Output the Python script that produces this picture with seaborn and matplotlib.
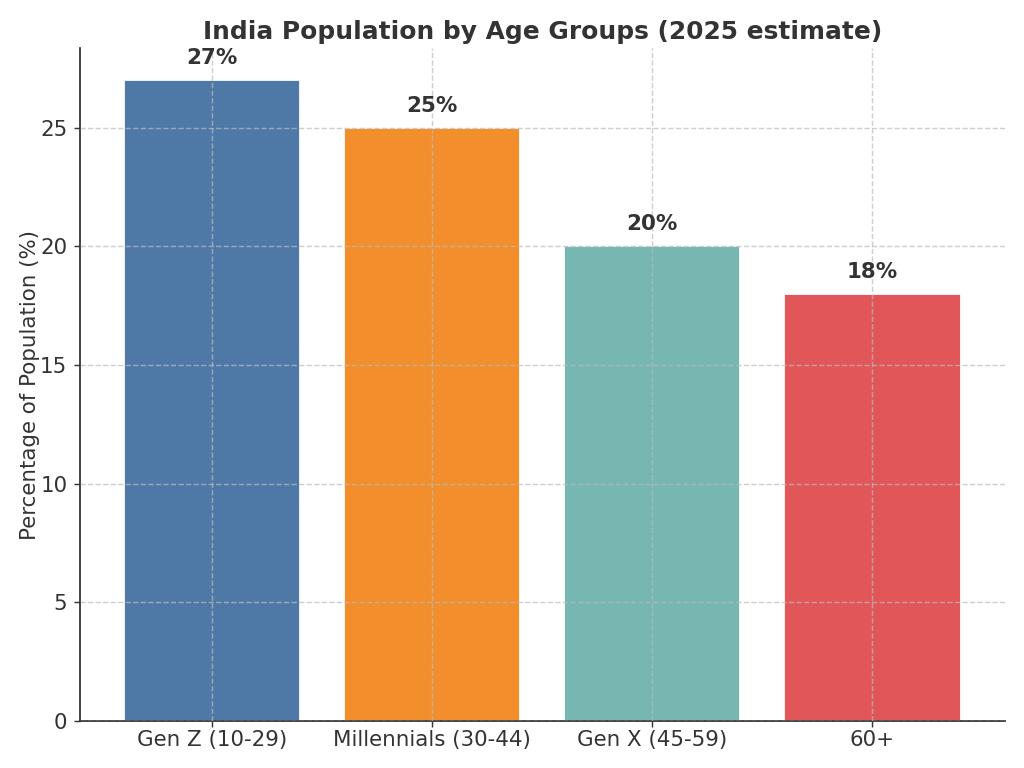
import matplotlib
matplotlib.use("Agg")
import matplotlib.pyplot as plt
import seaborn as sns
import pandas as pd

# data
age_groups = ["Gen Z (10-29)", "Millennials (30-44)", "Gen X (45-59)", "60+"]
share_pct = [27, 25, 20, 18]
bar_colors = ["#4e79a7", "#f28e2b", "#76b7b2", "#e15759"]

df = pd.DataFrame({"group": age_groups, "pct": share_pct})

sns.set_style("white")
plt.rcParams["font.family"] = ["DejaVu Sans"]
plt.rcParams["text.color"] = "#333333"
plt.rcParams["axes.labelcolor"] = "#333333"
plt.rcParams["xtick.color"] = "#333333"
plt.rcParams["ytick.color"] = "#333333"

fig, ax = plt.subplots(figsize=(8, 6), dpi=128)
sns.barplot(data=df, x="group", y="pct", hue="group", palette=bar_colors,
            legend=False, width=0.8, saturation=1, ax=ax)

for i, v in enumerate(share_pct):
    ax.text(i, v + 0.5, f"{v}%", ha="center", va="bottom",
            fontsize=12, fontweight="bold", color="#333333")

ax.set_xlim(-0.6, len(age_groups) - 0.4)
ax.set_ylim(0, max(share_pct) * 1.05)
ax.set_title("India Population by Age Groups (2025 estimate)",
             fontsize=14, fontweight="bold", color="#333333", pad=5)
ax.set_xlabel("")
ax.set_ylabel("Percentage of Population (%)", fontsize=12, labelpad=0)
ax.tick_params(axis="both", labelsize=12, length=3.5, left=True, bottom=True)
ax.tick_params(axis="x", pad=1.5)
ax.set_axisbelow(False)
ax.grid(True, linestyle="--", color="#bbbbbb", alpha=0.7, linewidth=0.8)
sns.despine(ax=ax)
for s in ["left", "bottom"]:
    ax.spines[s].set_color("#333333")
    ax.spines[s].set_linewidth(1.0)

fig.subplots_adjust(left=0.078, right=0.981, top=0.9375, bottom=0.061)
fig.savefig("out.png", dpi=128)
